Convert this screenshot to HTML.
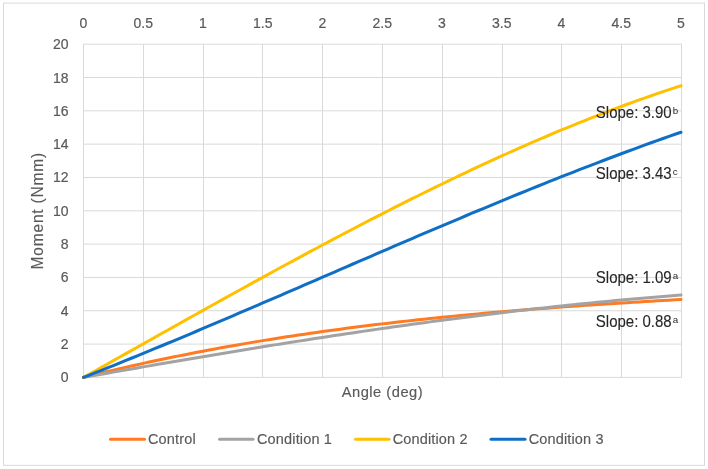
<!DOCTYPE html>
<html><head><meta charset="utf-8"><style>
html,body{margin:0;padding:0;background:#fff;}
body{width:708px;height:469px;overflow:hidden;}
svg{display:block;will-change:transform;font-family:"Liberation Sans",sans-serif;}
</style></head><body>
<svg width="708" height="469" viewBox="0 0 708 469">
<rect x="0" y="0" width="708" height="469" fill="#fff"/>
<rect x="3.5" y="3.1" width="701" height="462.2" fill="#fff" stroke="#d9d9d9" stroke-width="1"/>
<g stroke="#d9d9d9" stroke-width="1"><line x1="83.50" y1="44.2" x2="83.50" y2="377.4"/><line x1="143.50" y1="44.2" x2="143.50" y2="377.4"/><line x1="203.50" y1="44.2" x2="203.50" y2="377.4"/><line x1="262.50" y1="44.2" x2="262.50" y2="377.4"/><line x1="322.50" y1="44.2" x2="322.50" y2="377.4"/><line x1="382.50" y1="44.2" x2="382.50" y2="377.4"/><line x1="442.50" y1="44.2" x2="442.50" y2="377.4"/><line x1="502.50" y1="44.2" x2="502.50" y2="377.4"/><line x1="561.50" y1="44.2" x2="561.50" y2="377.4"/><line x1="621.50" y1="44.2" x2="621.50" y2="377.4"/><line x1="681.50" y1="44.2" x2="681.50" y2="377.4"/><line x1="83" y1="44.20" x2="682" y2="44.20"/><line x1="83" y1="77.52" x2="682" y2="77.52"/><line x1="83" y1="110.84" x2="682" y2="110.84"/><line x1="83" y1="144.16" x2="682" y2="144.16"/><line x1="83" y1="177.48" x2="682" y2="177.48"/><line x1="83" y1="210.80" x2="682" y2="210.80"/><line x1="83" y1="244.12" x2="682" y2="244.12"/><line x1="83" y1="277.44" x2="682" y2="277.44"/><line x1="83" y1="310.76" x2="682" y2="310.76"/><line x1="83" y1="344.08" x2="682" y2="344.08"/><line x1="83" y1="377.40" x2="682" y2="377.40"/></g>
<g fill="#595959" stroke="#595959" stroke-width="0.2" font-size="14" text-anchor="middle"><text x="83.50" y="28">0</text><text x="143.25" y="28">0.5</text><text x="203.00" y="28">1</text><text x="262.75" y="28">1.5</text><text x="322.50" y="28">2</text><text x="382.25" y="28">2.5</text><text x="442.00" y="28">3</text><text x="501.75" y="28">3.5</text><text x="561.50" y="28">4</text><text x="621.25" y="28">4.5</text><text x="681.00" y="28">5</text></g>
<g fill="#595959" stroke="#595959" stroke-width="0.2" font-size="14" text-anchor="end"><text x="68.5" y="382.40">0</text><text x="68.5" y="349.08">2</text><text x="68.5" y="315.76">4</text><text x="68.5" y="282.44">6</text><text x="68.5" y="249.12">8</text><text x="68.5" y="215.80">10</text><text x="68.5" y="182.48">12</text><text x="68.5" y="149.16">14</text><text x="68.5" y="115.84">16</text><text x="68.5" y="82.52">18</text><text x="68.5" y="49.20">20</text></g>
<g fill="none" stroke-width="3" stroke-linecap="round" stroke-linejoin="round"><polyline points="83.50,377.40 89.47,375.91 95.45,374.44 101.43,372.99 107.40,371.56 113.38,370.15 119.35,368.76 125.33,367.39 131.30,366.03 137.28,364.70 143.25,363.38 149.23,362.08 155.20,360.80 161.18,359.54 167.15,358.29 173.12,357.06 179.10,355.85 185.08,354.66 191.05,353.48 197.03,352.32 203.00,351.18 208.98,350.06 214.95,348.95 220.93,347.85 226.90,346.78 232.88,345.71 238.85,344.67 244.83,343.64 250.80,342.62 256.78,341.62 262.75,340.64 268.73,339.67 274.70,338.72 280.68,337.78 286.65,336.85 292.62,335.94 298.60,335.04 304.58,334.16 310.55,333.29 316.53,332.43 322.50,331.59 328.48,330.76 334.45,329.95 340.43,329.14 346.40,328.35 352.38,327.57 358.35,326.81 364.32,326.06 370.30,325.32 376.28,324.59 382.25,323.87 388.23,323.17 394.20,322.47 400.18,321.79 406.15,321.12 412.12,320.46 418.10,319.81 424.07,319.17 430.05,318.54 436.03,317.92 442.00,317.32 447.98,316.72 453.95,316.13 459.93,315.55 465.90,314.99 471.88,314.43 477.85,313.88 483.82,313.34 489.80,312.80 495.78,312.28 501.75,311.77 507.73,311.26 513.70,310.76 519.68,310.27 525.65,309.79 531.62,309.31 537.60,308.85 543.58,308.39 549.55,307.94 555.53,307.49 561.50,307.05 567.47,306.62 573.45,306.20 579.43,305.78 585.40,305.37 591.38,304.96 597.35,304.56 603.33,304.16 609.30,303.78 615.27,303.39 621.25,303.01 627.23,302.64 633.20,302.27 639.18,301.91 645.15,301.55 651.12,301.20 657.10,300.85 663.08,300.50 669.05,300.16 675.02,299.82 681.00,299.49" stroke="#FF7A22"/><polyline points="83.50,377.40 89.47,376.34 95.45,375.28 101.43,374.22 107.40,373.17 113.38,372.12 119.35,371.07 125.33,370.02 131.30,368.98 137.28,367.93 143.25,366.89 149.23,365.86 155.20,364.82 161.18,363.79 167.15,362.77 173.12,361.74 179.10,360.72 185.08,359.70 191.05,358.69 197.03,357.68 203.00,356.67 208.98,355.67 214.95,354.67 220.93,353.67 226.90,352.68 232.88,351.69 238.85,350.71 244.83,349.73 250.80,348.75 256.78,347.78 262.75,346.81 268.73,345.85 274.70,344.89 280.68,343.94 286.65,342.99 292.62,342.05 298.60,341.11 304.58,340.17 310.55,339.25 316.53,338.32 322.50,337.40 328.48,336.49 334.45,335.58 340.43,334.68 346.40,333.79 352.38,332.90 358.35,332.01 364.32,331.13 370.30,330.26 376.28,329.39 382.25,328.53 388.23,327.68 394.20,326.83 400.18,325.98 406.15,325.15 412.12,324.32 418.10,323.50 424.07,322.68 430.05,321.87 436.03,321.07 442.00,320.27 447.98,319.48 453.95,318.70 459.93,317.93 465.90,317.16 471.88,316.40 477.85,315.65 483.82,314.91 489.80,314.17 495.78,313.44 501.75,312.72 507.73,312.00 513.70,311.30 519.68,310.60 525.65,309.91 531.62,309.23 537.60,308.56 543.58,307.89 549.55,307.23 555.53,306.59 561.50,305.95 567.47,305.32 573.45,304.69 579.43,304.08 585.40,303.48 591.38,302.88 597.35,302.30 603.33,301.72 609.30,301.15 615.27,300.59 621.25,300.05 627.23,299.51 633.20,298.98 639.18,298.46 645.15,297.95 651.12,297.45 657.10,296.96 663.08,296.48 669.05,296.01 675.02,295.55 681.00,295.10" stroke="#A3A3A3"/><polyline points="83.50,377.40 89.47,374.05 95.45,370.70 101.43,367.35 107.40,364.00 113.38,360.64 119.35,357.29 125.33,353.93 131.30,350.57 137.28,347.22 143.25,343.86 149.23,340.50 155.20,337.15 161.18,333.80 167.15,330.44 173.12,327.10 179.10,323.75 185.08,320.40 191.05,317.06 197.03,313.73 203.00,310.39 208.98,307.06 214.95,303.74 220.93,300.42 226.90,297.10 232.88,293.79 238.85,290.49 244.83,287.19 250.80,283.90 256.78,280.61 262.75,277.34 268.73,274.07 274.70,270.80 280.68,267.55 286.65,264.30 292.62,261.07 298.60,257.84 304.58,254.62 310.55,251.41 316.53,248.21 322.50,245.03 328.48,241.85 334.45,238.68 340.43,235.53 346.40,232.39 352.38,229.26 358.35,226.14 364.32,223.03 370.30,219.94 376.28,216.86 382.25,213.80 388.23,210.75 394.20,207.71 400.18,204.69 406.15,201.69 412.12,198.70 418.10,195.72 424.07,192.77 430.05,189.83 436.03,186.90 442.00,183.99 447.98,181.10 453.95,178.23 459.93,175.38 465.90,172.54 471.88,169.73 477.85,166.93 483.82,164.16 489.80,161.40 495.78,158.66 501.75,155.95 507.73,153.25 513.70,150.58 519.68,147.92 525.65,145.29 531.62,142.69 537.60,140.10 543.58,137.54 549.55,135.00 555.53,132.48 561.50,129.99 567.47,127.52 573.45,125.08 579.43,122.66 585.40,120.27 591.38,117.90 597.35,115.56 603.33,113.25 609.30,110.96 615.27,108.70 621.25,106.47 627.23,104.26 633.20,102.08 639.18,99.93 645.15,97.81 651.12,95.72 657.10,93.66 663.08,91.63 669.05,89.63 675.02,87.65 681.00,85.71" stroke="#FFC000"/><polyline points="83.50,377.40 89.47,375.05 95.45,372.68 101.43,370.30 107.40,367.92 113.38,365.52 119.35,363.11 125.33,360.69 131.30,358.26 137.28,355.83 143.25,353.38 149.23,350.93 155.20,348.46 161.18,345.99 167.15,343.51 173.12,341.02 179.10,338.53 185.08,336.02 191.05,333.52 197.03,331.00 203.00,328.48 208.98,325.95 214.95,323.42 220.93,320.88 226.90,318.33 232.88,315.79 238.85,313.23 244.83,310.67 250.80,308.11 256.78,305.55 262.75,302.98 268.73,300.41 274.70,297.83 280.68,295.26 286.65,292.68 292.62,290.10 298.60,287.52 304.58,284.93 310.55,282.35 316.53,279.76 322.50,277.18 328.48,274.59 334.45,272.01 340.43,269.42 346.40,266.84 352.38,264.25 358.35,261.67 364.32,259.09 370.30,256.51 376.28,253.94 382.25,251.36 388.23,248.79 394.20,246.22 400.18,243.66 406.15,241.10 412.12,238.54 418.10,235.99 424.07,233.44 430.05,230.89 436.03,228.35 442.00,225.82 447.98,223.29 453.95,220.77 459.93,218.26 465.90,215.75 471.88,213.24 477.85,210.75 483.82,208.26 489.80,205.78 495.78,203.31 501.75,200.85 507.73,198.39 513.70,195.94 519.68,193.51 525.65,191.08 531.62,188.66 537.60,186.25 543.58,183.85 549.55,181.47 555.53,179.09 561.50,176.73 567.47,174.37 573.45,172.03 579.43,169.70 585.40,167.38 591.38,165.08 597.35,162.79 603.33,160.51 609.30,158.24 615.27,155.99 621.25,153.75 627.23,151.53 633.20,149.32 639.18,147.13 645.15,144.95 651.12,142.78 657.10,140.64 663.08,138.51 669.05,136.39 675.02,134.29 681.00,132.21" stroke="#0F6FC6"/></g>
<text x="382.4" y="396.8" fill="#595959" stroke="#595959" stroke-width="0.15" font-size="14.7" text-anchor="middle" letter-spacing="0.5">Angle (deg)</text>
<text transform="translate(42.6,210.8) rotate(-90)" fill="#595959" stroke="#595959" stroke-width="0.15" font-size="15.6" text-anchor="middle" letter-spacing="0.75">Moment (Nmm)</text>
<g fill="#262626" stroke="#262626" stroke-width="0.1" font-size="16.5">
<text x="595.8" y="117.6" textLength="75.9" lengthAdjust="spacingAndGlyphs">Slope: 3.90</text><text x="672.8" y="113.6" font-size="9.8" stroke-width="0">b</text>
<text x="595.8" y="178.9" textLength="75.9" lengthAdjust="spacingAndGlyphs">Slope: 3.43</text><text x="672.8" y="174.9" font-size="9.8" stroke-width="0">c</text>
<text x="595.8" y="282.9" textLength="75.9" lengthAdjust="spacingAndGlyphs">Slope: 1.09</text><text x="672.8" y="278.8" font-size="9.8" stroke-width="0">a</text>
<text x="595.8" y="326.7" textLength="75.9" lengthAdjust="spacingAndGlyphs">Slope: 0.88</text><text x="672.8" y="322.6" font-size="9.8" stroke-width="0">a</text>
</g>
<g stroke-width="3" stroke-linecap="round">
<line x1="110.5" y1="439.3" x2="144.5" y2="439.3" stroke="#FF7A22"/>
<line x1="219.5" y1="439.3" x2="253" y2="439.3" stroke="#A3A3A3"/>
<line x1="355.5" y1="439.3" x2="389" y2="439.3" stroke="#FFC000"/>
<line x1="491" y1="439.3" x2="525" y2="439.3" stroke="#0F6FC6"/>
</g>
<g fill="#595959" stroke="#595959" stroke-width="0.15" font-size="14.5" letter-spacing="0.15">
<text x="148" y="443.6">Control</text>
<text x="257" y="443.6">Condition 1</text>
<text x="392.7" y="443.6">Condition 2</text>
<text x="528.7" y="443.6">Condition 3</text>
</g>
</svg>
</body></html>
